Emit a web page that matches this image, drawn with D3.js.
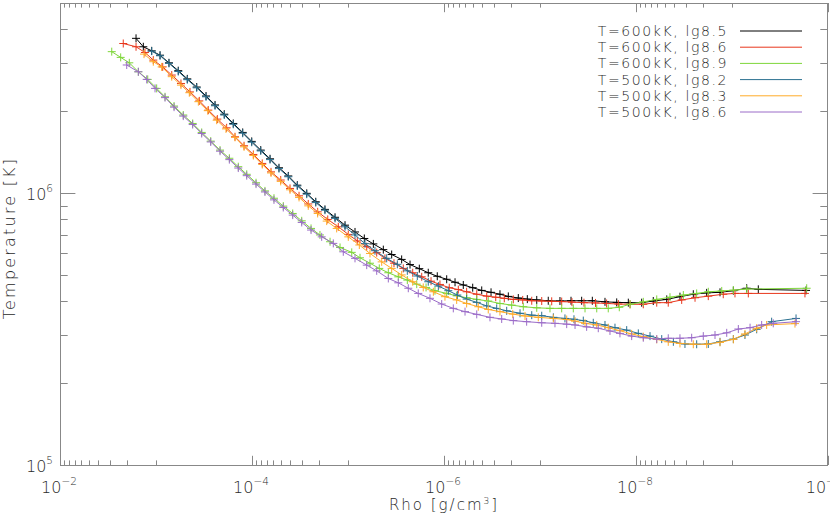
<!DOCTYPE html>
<html>
<head>
<meta charset="utf-8">
<script src="https://cdn.jsdelivr.net/npm/d3@7"></script>
<style>
  body { margin: 0; background: #fff; }
  text { font-family: "DejaVu Sans", sans-serif; font-weight: 200; fill: #2a2a2a; }
</style>
</head>
<body>
<svg id="chart" width="830" height="522"></svg>
<script>
// log10(rho [g/cm3]) and log10(T [K]) for each run
var lgRho_600_85 = [-2.792,-2.868,-2.955,-3.042,-3.135,-3.232,-3.326,-3.424,-3.521,-3.615,-3.711,-3.805,-3.903,-3.997,-4.091,-4.188,-4.281,-4.378,-4.472,-4.570,-4.664,-4.760,-4.865,-4.969,-5.073,-5.170,-5.264,-5.368,-5.455,-5.559,-5.646,-5.743,-5.836,-5.930,-6.028,-6.115,-6.201,-6.299,-6.393,-6.490,-6.583,-6.670,-6.774,-6.868,-6.966,-7.086,-7.208,-7.323,-7.434,-7.545,-7.677,-7.799,-7.920,-8.059,-8.180,-8.320,-8.458,-8.597,-8.736,-8.875,-9.014,-9.153,-9.274,-9.771];
var lgT_600_85 = [6.569,6.538,6.523,6.507,6.479,6.450,6.420,6.390,6.357,6.324,6.290,6.256,6.223,6.190,6.158,6.126,6.093,6.063,6.029,5.999,5.968,5.940,5.911,5.882,5.857,5.833,5.813,5.792,5.774,5.756,5.737,5.722,5.707,5.694,5.683,5.672,5.662,5.652,5.642,5.635,5.628,5.620,5.614,5.610,5.607,5.604,5.603,5.604,5.604,5.604,5.600,5.598,5.597,5.597,5.603,5.609,5.619,5.628,5.633,5.635,5.641,5.650,5.646,5.642];

var lgRho_600_86 = [-2.659,-2.792,-2.885,-2.972,-3.070,-3.164,-3.260,-3.354,-3.451,-3.545,-3.639,-3.736,-3.823,-3.917,-4.014,-4.107,-4.198,-4.299,-4.396,-4.490,-4.586,-4.684,-4.789,-4.899,-5.003,-5.097,-5.195,-5.299,-5.385,-5.479,-5.576,-5.674,-5.768,-5.865,-5.958,-6.055,-6.149,-6.236,-6.341,-6.445,-6.539,-6.628,-6.722,-6.820,-6.914,-7.018,-7.122,-7.226,-7.333,-7.458,-7.578,-7.694,-7.816,-7.938,-8.076,-8.216,-8.336,-8.476,-8.615,-8.753,-8.909,-9.031,-9.170,-9.760];
var lgT_600_86 = [6.550,6.538,6.517,6.489,6.464,6.434,6.403,6.372,6.339,6.305,6.272,6.240,6.207,6.174,6.142,6.109,6.078,6.048,6.017,5.990,5.960,5.931,5.903,5.876,5.848,5.824,5.803,5.781,5.760,5.742,5.723,5.707,5.692,5.676,5.664,5.652,5.645,5.637,5.628,5.621,5.617,5.613,5.609,5.607,5.604,5.603,5.602,5.601,5.599,5.597,5.596,5.594,5.592,5.591,5.591,5.597,5.597,5.607,5.615,5.621,5.628,5.631,5.631,5.631];

var lgRho_600_89 = [-2.539,-2.632,-2.722,-2.816,-2.914,-3.007,-3.094,-3.188,-3.284,-3.382,-3.476,-3.570,-3.667,-3.764,-3.857,-3.945,-4.042,-4.135,-4.229,-4.326,-4.424,-4.518,-4.615,-4.708,-4.813,-4.917,-5.039,-5.125,-5.229,-5.326,-5.420,-5.524,-5.618,-5.716,-5.813,-5.906,-6.028,-6.132,-6.236,-6.341,-6.461,-6.583,-6.705,-6.826,-6.966,-7.104,-7.226,-7.347,-7.469,-7.591,-7.711,-7.826,-7.938,-8.076,-8.216,-8.354,-8.493,-8.632,-8.753,-8.893,-9.014,-9.153,-9.778];
var lgT_600_89 = [6.520,6.499,6.479,6.446,6.418,6.385,6.354,6.320,6.287,6.256,6.223,6.191,6.158,6.128,6.097,6.069,6.038,6.008,5.981,5.952,5.925,5.898,5.870,5.846,5.821,5.800,5.782,5.762,5.742,5.723,5.707,5.692,5.680,5.665,5.653,5.641,5.631,5.622,5.615,5.609,5.603,5.594,5.588,5.582,5.578,5.576,5.576,5.576,5.576,5.576,5.576,5.580,5.591,5.600,5.609,5.617,5.625,5.631,5.637,5.640,5.643,5.647,5.650];

var lgRho_500_82 = [-2.955,-3.042,-3.135,-3.232,-3.326,-3.424,-3.521,-3.615,-3.711,-3.805,-3.903,-3.997,-4.091,-4.188,-4.281,-4.378,-4.472,-4.570,-4.664,-4.760,-4.865,-4.969,-5.073,-5.177,-5.281,-5.403,-5.514,-5.618,-5.722,-5.836,-5.941,-6.045,-6.139,-6.236,-6.341,-6.445,-6.549,-6.653,-6.792,-6.914,-7.018,-7.139,-7.260,-7.354,-7.451,-7.555,-7.677,-7.781,-7.903,-8.024,-8.146,-8.268,-8.389,-8.510,-8.632,-8.753,-8.875,-9.014,-9.135,-9.257,-9.413,-9.667];
var lgT_500_82 = [6.522,6.505,6.477,6.447,6.417,6.387,6.354,6.321,6.287,6.253,6.220,6.187,6.155,6.123,6.090,6.060,6.026,5.996,5.965,5.937,5.907,5.876,5.846,5.814,5.788,5.760,5.738,5.714,5.695,5.674,5.658,5.641,5.625,5.610,5.598,5.585,5.576,5.567,5.558,5.551,5.549,5.543,5.539,5.536,5.531,5.523,5.515,5.505,5.496,5.484,5.474,5.463,5.453,5.445,5.444,5.445,5.453,5.463,5.478,5.499,5.527,5.539];

var lgRho_500_83 = [-2.875,-2.972,-3.059,-3.164,-3.260,-3.347,-3.441,-3.539,-3.632,-3.729,-3.823,-3.917,-4.014,-4.107,-4.198,-4.299,-4.396,-4.490,-4.586,-4.684,-4.778,-4.882,-5.003,-5.118,-5.229,-5.351,-5.455,-5.559,-5.674,-5.784,-5.889,-6.010,-6.132,-6.236,-6.357,-6.461,-6.583,-6.716,-6.844,-6.982,-7.139,-7.278,-7.365,-7.469,-7.591,-7.711,-7.833,-7.955,-8.076,-8.216,-8.336,-8.458,-8.597,-8.736,-8.875,-9.014,-9.135,-9.257,-9.361,-9.656];
var lgT_500_83 = [6.511,6.483,6.464,6.428,6.397,6.369,6.336,6.303,6.268,6.236,6.205,6.170,6.138,6.105,6.074,6.043,6.012,5.984,5.953,5.925,5.897,5.870,5.839,5.809,5.778,5.747,5.723,5.699,5.674,5.653,5.637,5.619,5.607,5.594,5.582,5.572,5.564,5.555,5.548,5.543,5.539,5.535,5.529,5.521,5.515,5.505,5.494,5.482,5.472,5.462,5.453,5.447,5.444,5.444,5.451,5.462,5.482,5.503,5.515,5.520];

var lgRho_500_86 = [-2.695,-2.816,-2.903,-2.990,-3.094,-3.188,-3.284,-3.382,-3.476,-3.570,-3.667,-3.764,-3.857,-3.945,-4.042,-4.135,-4.229,-4.326,-4.424,-4.518,-4.615,-4.726,-4.847,-4.951,-5.073,-5.195,-5.299,-5.420,-5.524,-5.628,-5.732,-5.854,-5.976,-6.097,-6.219,-6.341,-6.479,-6.601,-6.722,-6.861,-7.018,-7.156,-7.278,-7.365,-7.486,-7.607,-7.729,-7.833,-7.955,-8.076,-8.216,-8.336,-8.458,-8.580,-8.701,-8.823,-8.945,-9.066,-9.188,-9.309,-9.430,-9.667];
var lgT_500_86 = [6.471,6.446,6.418,6.385,6.351,6.316,6.283,6.252,6.219,6.188,6.154,6.123,6.092,6.064,6.033,6.004,5.975,5.947,5.919,5.892,5.864,5.839,5.815,5.784,5.760,5.735,5.714,5.686,5.670,5.650,5.631,5.613,5.592,5.576,5.564,5.554,5.543,5.537,5.531,5.527,5.523,5.521,5.518,5.515,5.508,5.503,5.493,5.484,5.474,5.468,5.463,5.466,5.466,5.468,5.474,5.478,5.486,5.500,5.505,5.515,5.521,5.527];

var labels = ["T=600kK, lg8.5", "T=600kK, lg8.6", "T=600kK, lg8.9", "T=500kK, lg8.2", "T=500kK, lg8.3", "T=500kK, lg8.6"];
var colors = ["#000000", "#e8361c", "#7ed63a", "#2a7090", "#ffab28", "#9b6cc8"];
var rhoSets = [lgRho_600_85, lgRho_600_86, lgRho_600_89, lgRho_500_82, lgRho_500_83, lgRho_500_86];
var tSets = [lgT_600_85, lgT_600_86, lgT_600_89, lgT_500_82, lgT_500_83, lgT_500_86];

var xMajor = [1e-2, 1e-4, 1e-6, 1e-8, 1e-10];
var xMajorExp = [-2, -4, -6, -8, -10];
var yMajor = [1e5, 1e6];
var yMajorExp = [5, 6];

var pLeft = 60, pRight = 828, pTop = 3, pBottom = 465;
var svg = d3.select("#chart");

var x = d3.scaleLog().domain([1e-2, 1e-10]).range([pLeft, pRight]);
var y = d3.scaleLog().domain([1e5, 5e6]).range([pBottom, pTop]);

var axisColor = "#888";

// minor ticks: IDL puts 9 minors in the decade after each labelled one
var xMinor = [];
xMajorExp.forEach(function(e){
    for (var m = 1; m <= 9; m++) {
        var v = m * Math.pow(10, e - 1);
        if (v >= 1e-10 && v < 1e-2) xMinor.push(v);
    }
});
var yMinor = [];
[5, 6].forEach(function(e){
    for (var m = 2; m <= 9; m++) {
        var v = m * Math.pow(10, e);
        if (v <= 5e6) yMinor.push(v);
    }
});

// frame
svg.append("rect")
    .attr("x", pLeft + 0.5).attr("y", pTop + 0.5)
    .attr("width", pRight - pLeft - 1).attr("height", pBottom - pTop)
    .attr("fill", "none").attr("stroke", axisColor).attr("stroke-width", 1);

var ticks = svg.append("g").attr("stroke", axisColor).attr("stroke-width", 1);
function xTick(v, len){
    var px = Math.round(x(v)) + 0.5;
    ticks.append("line").attr("x1", px).attr("x2", px).attr("y1", pBottom).attr("y2", pBottom - len);
    ticks.append("line").attr("x1", px).attr("x2", px).attr("y1", pTop).attr("y2", pTop + len);
}
function yTick(v, len){
    var py = Math.round(y(v)) + 0.5;
    ticks.append("line").attr("y1", py).attr("y2", py).attr("x1", pLeft).attr("x2", pLeft + len);
    ticks.append("line").attr("y1", py).attr("y2", py).attr("x1", pRight).attr("x2", pRight - len);
}
xMajor.forEach(function(v){ xTick(v, 9.2); });
xMinor.forEach(function(v){ xTick(v, 4.6); });
yMajor.forEach(function(v){ yTick(v, 15.4); });
yMinor.forEach(function(v){ yTick(v, 7.7); });

// tick labels
xMajor.forEach(function(v, i){
    var t = svg.append("text")
        .attr("x", x(v) - 1).attr("y", 493)
        .attr("text-anchor", "middle")
        .style("font-size", "16px");
    t.append("tspan").text("10");
    t.append("tspan").attr("dy", -8).style("font-size", "10.5px").text("\u2212" + (-xMajorExp[i]));
});
yMajor.forEach(function(v, i){
    var t = svg.append("text")
        .attr("x", 53).attr("y", y(v) + 7)
        .attr("text-anchor", "end")
        .style("font-size", "16px");
    t.append("tspan").text("10");
    t.append("tspan").attr("dy", -8).style("font-size", "10.5px").text(yMajorExp[i]);
});

// axis titles
var xt = svg.append("text")
    .attr("x", 444).attr("y", 510)
    .attr("text-anchor", "middle")
    .style("font-size", "15px")
    .style("letter-spacing", "2px");
xt.append("tspan").text("Rho [g/cm");
xt.append("tspan").attr("dy", -6).style("font-size", "9px").text("3");
xt.append("tspan").attr("dy", 6).text("]");

svg.append("text")
    .attr("transform", "translate(15,238) rotate(-90)")
    .attr("text-anchor", "middle")
    .style("font-size", "16px")
    .style("letter-spacing", "2.2px")
    .text("Temperature [K]");

// curves with + markers
var line = d3.line()
    .x(function(d){ return x(Math.pow(10, d[0])); })
    .y(function(d){ return y(Math.pow(10, d[1])); });

var plus = "M-4,0H4M0,-4V4";

labels.forEach(function(name, i){
    var pts = rhoSets[i].map(function(r, j){ return [r, tSets[i][j]]; });
    var g = svg.append("g");
    g.append("path")
        .datum(pts)
        .attr("d", line)
        .attr("fill", "none")
        .attr("stroke", colors[i])
        .attr("stroke-width", 1);
    g.selectAll("path.mk")
        .data(pts)
        .enter()
        .append("path")
        .attr("class", "mk")
        .attr("d", plus)
        .attr("transform", function(d){
            return "translate(" + x(Math.pow(10, d[0])) + "," + y(Math.pow(10, d[1])) + ")";
        })
        .attr("stroke", colors[i])
        .attr("stroke-width", 1);
});

// legend
labels.forEach(function(name, i){
    var ly = 31 + i * 16.2;
    svg.append("line")
        .attr("x1", 740).attr("x2", 802)
        .attr("y1", ly).attr("y2", ly)
        .attr("stroke", colors[i]).attr("stroke-width", 1);
    svg.append("text")
        .attr("x", 728).attr("y", ly + 5)
        .attr("text-anchor", "end")
        .style("font-size", "14px")
        .style("letter-spacing", "1.6px")
        .text(name);
});
</script>
</body>
</html>
